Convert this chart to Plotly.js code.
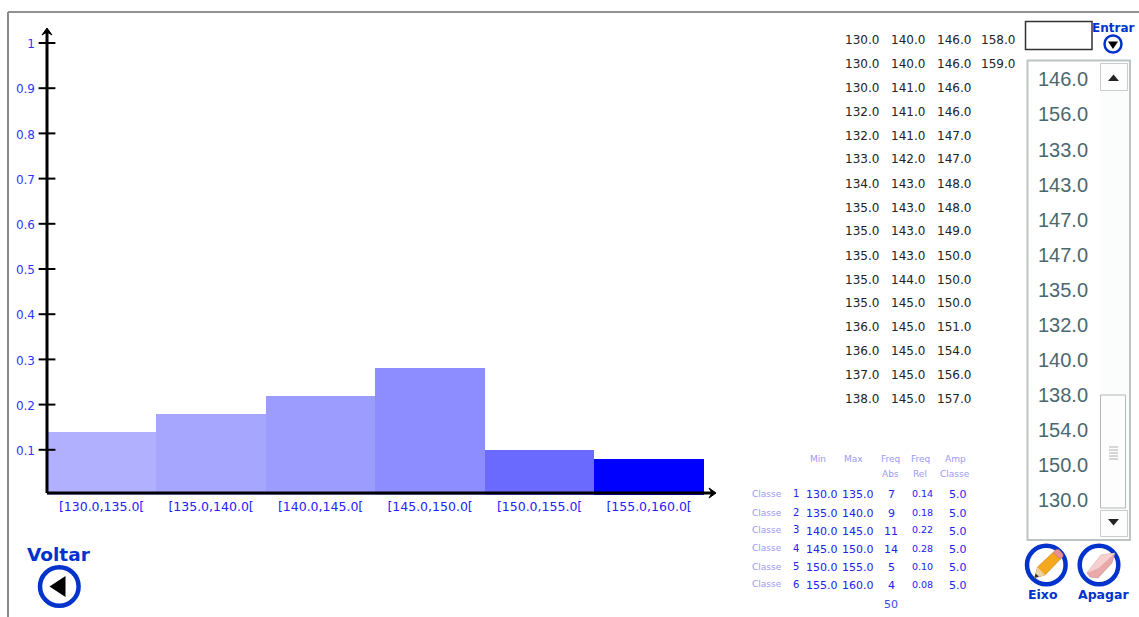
<!DOCTYPE html>
<html>
<head>
<meta charset="utf-8">
<script src="https://cdn.plot.ly/plotly-3.0.1.min.js"></script>
<style>html,body{margin:0;padding:0;background:#fff;overflow:hidden}#chart{width:1139px;height:617px}</style>
</head>
<body>
<div id="chart"></div>
<script>
var classLabels = ['[130.0,135.0[','[135.0,140.0[','[140.0,145.0[','[145.0,150.0[','[150.0,155.0['
  ,'[155.0,160.0['];
var classMin = [130,135,140,145,150,155];
var classMax = [135,140,145,150,155,160];
var freqAbs = [7,9,11,14,5,4];
var freqRel = [0.14,0.18,0.22,0.28,0.10,0.08];
var ampClasse = [5,5,5,5,5,5];
var barColors = ['#B0B0FF','#A6A6FF','#9C9CFF','#8D8DFF','#6A6AFF','#0000FF'];
var yTicks = [0.1,0.2,0.3,0.4,0.5,0.6,0.7,0.8,0.9,1];
var yTickText = ['0.1','0.2','0.3','0.4','0.5','0.6','0.7','0.8','0.9','1'];
var sortedCol1 = ['130.0','130.0','130.0','132.0','132.0','133.0','134.0','135.0','135.0','135.0','135.0','135.0','136.0','136.0','137.0','138.0'];
var sortedCol2 = ['140.0','140.0','141.0','141.0','141.0','142.0','143.0','143.0','143.0','143.0','144.0','145.0','145.0','145.0','145.0','145.0'];
var sortedCol3 = ['146.0','146.0','146.0','146.0','147.0','147.0','148.0','148.0','149.0','150.0','150.0','150.0','151.0','154.0','156.0','157.0'];
var sortedCol4 = ['158.0','159.0'];
var listValues = ['146.0','156.0','133.0','143.0','147.0','147.0','135.0','132.0','140.0','138.0','154.0','150.0','130.0'];

var W = 1139, H = 617;
var L = 47, R = 720, T = 28, B = 495;
function px(x){ return (x - L) / (R - L); }
function py(y){ return (B - y) / (B - T); }
var BLUE = '#0033CC', TXT = 'DejaVu Sans, Verdana, sans-serif';

var annotations = [], shapes = [];
function label(x, y, text, size, color, anchor, family, weight){
  annotations.push({xref:'paper', yref:'paper', x:px(x), y:py(y), text:text, showarrow:false,
    xanchor:anchor || 'left', yanchor:'middle', borderpad:0, borderwidth:0,
    font:{size:size, color:color, family:family || TXT, weight:weight || 400}});
}
function rect(x0,y0,x1,y1,line,fill,w){
  shapes.push({type:'rect', xref:'paper', yref:'paper', x0:px(x0), x1:px(x1), y0:py(y0), y1:py(y1),
    line:{color:line || 'rgba(0,0,0,0)', width:w === undefined ? 1 : w}, fillcolor:fill || 'rgba(0,0,0,0)', layer:'above'});
}
function seg(x0,y0,x1,y1,c,w){
  shapes.push({type:'line', xref:'paper', yref:'paper', x0:px(x0), x1:px(x1), y0:py(y0), y1:py(y1),
    line:{color:c, width:w}, layer:'above'});
}
function circle(cx,cy,r,c,w,fill){
  shapes.push({type:'circle', xref:'paper', yref:'paper', x0:px(cx-r), x1:px(cx+r), y0:py(cy-r), y1:py(cy+r),
    line:{color:c, width:w}, fillcolor:fill || 'rgba(0,0,0,0)', layer:'above'});
}
function poly(points, fill, line, w){
  var d = points.map(function(p,i){ return (i ? 'L' : 'M') + px(p[0]) + ',' + py(p[1]); }).join(' ') + ' Z';
  shapes.push({type:'path', xref:'paper', yref:'paper', path:d, fillcolor:fill,
    line:{color:line || fill, width:w === undefined ? 0 : w}, layer:'above'});
}

// page frame
seg(8,12,1139,12,'#6e6e6e',1.5);
seg(8,12,8,617,'#8a8a8a',2);

// axes and arrows
seg(47,493,712,493,'#000',3);
seg(47,493,47,30,'#000',3);
poly([[42,35],[47,28],[52,35],[47,32]],'#000','#000',1);
poly([[709,488],[716,493],[709,498],[712,493]],'#000','#000',1);

// sorted data columns
var rowY = [40.5,63.5,88,112,135.5,159,184,207.5,231,256,279.5,303,326.5,351,375,398.5];
sortedCol1.forEach(function(v,i){ label(845,rowY[i],v,12,'#222'); });
sortedCol2.forEach(function(v,i){ label(891,rowY[i],v,12,'#222'); });
sortedCol3.forEach(function(v,i){ label(936.5,rowY[i],v,12,'#222'); });
sortedCol4.forEach(function(v,i){ label(981,rowY[i],v,12,'#222'); });

// frequency table
var soft = '#9A9AF5', strong = '#2222EE';
[['Min',818,459],['Max',853,459],['Freq',890,459],['Abs',890,474],['Freq',920,459],['Rel',920,474],['Amp',955,459],['Classe',955,474]]
  .forEach(function(h){ label(h[1],h[2],h[0],9,soft,'center'); });
var tableY = [494,513,531.5,549,567.5,585];
var classeY = [493.5,512.5,529.5,548,566.5,584];
classMin.forEach(function(v,i){
  var y = tableY[i];
  label(767,classeY[i],'Classe',9,soft,'center');
  label(795.5,classeY[i],String(i+1),10,strong,'center');
  label(822.5,y,v.toFixed(1),11,strong,'center');
  label(858,y,classMax[i].toFixed(1),11,strong,'center');
  label(891,y,String(freqAbs[i]),11,strong,'center');
  label(922,classeY[i]+0.3,freqRel[i].toFixed(2),9.5,strong,'center');
  label(958,y,ampClasse[i].toFixed(1),11,strong,'center');
});
label(891,604,'50',11,'#4444EE','center');

// entry box
rect(1025.5,21.5,1092,49.5,'#333','#fff',1.5);
label(1113,28,'Entrar',12,BLUE,'center',TXT,700);
circle(1113,44,8.5,BLUE,2.5,'#fff');
poly([[1108,41.5],[1118,41.5],[1113,49]],'#000');

// list box
rect(1027.5,60.5,1130,540,'#bcc4c4','#fff',2);
var listY = [79,114.5,150,185,220,255,290,325,360,395,430,465,500];
listValues.forEach(function(v,i){ label(1038,listY[i],v,20,'#4A6870','left','Liberation Sans, Arial, sans-serif'); });
rect(1100.5,62,1129,538,'#fbfcfc','#fbfcfc',0);
rect(1100.5,63.5,1127.5,90.5,'#c9cccc','#fdfdfd',1);
poly([[1108,81],[1119,81],[1113.5,74.5]],'#222');
rect(1100.5,395,1125.5,508,'#b5b8b8','#fdfdfd',1);
seg(1109,447,1118,447,'#b0b0b0',1);
seg(1109,450,1118,450,'#b0b0b0',1);
seg(1109,453,1118,453,'#b0b0b0',1);
seg(1109,456,1118,456,'#b0b0b0',1);
seg(1109,459,1118,459,'#b0b0b0',1);
rect(1100.5,510.5,1127.5,536.5,'#c9cccc','#fdfdfd',1);
poly([[1108,519],[1119,519],[1113.5,525.5]],'#222');

// Voltar button
label(58.5,554,'Voltar',18.5,BLUE,'center',TXT,700);
circle(59.3,586.5,19.3,BLUE,4.5,'#fff');
poly([[49.5,586.5],[65.5,576],[65.5,597]],'#000');

// Eixo button (pencil)
circle(1046.3,565,19.3,BLUE,4.5,'#fff');
poly([[1034.5,578],[1037.5,567],[1053,552.5],[1060.5,559],[1045,575]],'#F5A81C','#B8770E',0.5);
poly([[1034.5,578],[1037.5,567],[1045,575]],'#EBD3A6');
poly([[1034.5,578],[1035.5,573.5],[1039,576.5]],'#333');
poly([[1053,552.5],[1056,549.5],[1059,549.5],[1063,554],[1063,556.5],[1060.5,559]],'#E88F8F','#B56A6A',0.5);
label(1043,594,'Eixo',12.5,BLUE,'center',TXT,700);

// Apagar button (eraser)
circle(1099,565,19.3,BLUE,4.5,'#fff');
poly([[1087,573],[1101,555],[1115,553],[1112,563],[1098,578],[1090,577]],'#E9A9A9','#B98585',0.5);
poly([[1087,573],[1101,555],[1115,553],[1099,568]],'#F6CFCF');
label(1103,594,'Apagar',12.5,BLUE,'center',TXT,700);

var mids = classMin.map(function(m,i){ return (m + classMax[i]) / 2; });
var widths = classMin.map(function(m,i){ return classMax[i] - m; });
var axisStart = 130.009;

var traces = [
  {type:'bar', x:mids, y:freqRel, width:widths, marker:{color:barColors, line:{width:0}},
   hoverinfo:'skip', showlegend:false},
  {type:'scatter', mode:'markers', x:yTicks.map(function(){ return axisStart; }), y:yTicks, cliponaxis:false,
   marker:{symbol:'line-ew', size:12, line:{width:2, color:'#000'}}, hoverinfo:'skip', showlegend:false}
];

var layout = {
  width:W, height:H, paper_bgcolor:'#fff', plot_bgcolor:'rgba(0,0,0,0)',
  margin:{l:L, r:W-R, t:T, b:H-B, pad:0},
  showlegend:false, bargap:0,
  xaxis:{range:[axisStart, axisStart + (R-L)/109.5*5], tickmode:'array', tickvals:mids, ticktext:classLabels,
    showgrid:false, zeroline:false, showline:false, ticks:'', ticklabelstandoff:2, ticklabelshift:-2.5, tickangle:0,
    tickfont:{family:TXT, size:12.5, color:'#2222FF'}},
  yaxis:{range:[0,(B-T)/452], tickmode:'array', tickvals:yTicks, ticktext:yTickText,
    showgrid:false, zeroline:false, showline:false, ticks:'', ticklabelstandoff:11, ticklabelshift:1,
    tickfont:{family:TXT, size:12, color:'#3333FF'}},
  shapes:shapes, annotations:annotations
};
Plotly.newPlot('chart', traces, layout, {displayModeBar:false, staticPlot:true});
</script>
</body>
</html>
